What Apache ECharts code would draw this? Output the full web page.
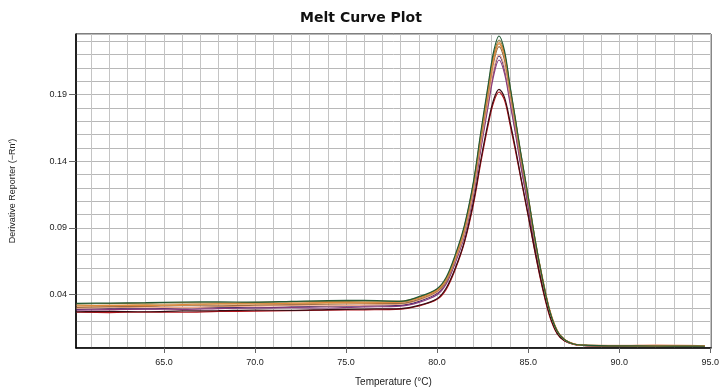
<!DOCTYPE html>
<html>
<head>
<meta charset="utf-8">
<script src="https://cdn.jsdelivr.net/npm/echarts@6/dist/echarts.min.js"></script>
<style>html,body{margin:0;padding:0;background:#fff;}#c{width:722px;height:392px;}</style>
</head>
<body>
<div id="c"></div>
<script>
// Temperatures (°C) shared by all wells
var temps = [60.2, 62, 64, 66, 68, 70, 72, 74, 76, 78, 79, 80, 80.5, 81, 81.5, 82, 82.4, 82.8, 83.1, 83.4, 83.7, 84, 84.3, 84.6, 85, 85.4, 85.8, 86.2, 86.6, 87, 87.5, 88, 90, 92, 94, 94.7];

// Derivative reporter (-Rn') per well
var wellPurple  = [0.0290,0.0296,0.0293,0.0300,0.0305,0.0302,0.0308,0.0312,0.0316,0.0320,0.0350,0.0410, 0.049,0.065,0.085,0.117,0.151,0.184,0.207,0.219,0.209,0.186,0.163,0.138,0.107,0.075,0.048,0.025,0.0115,0.0058,0.0030,0.0020, 0.0016,0.0015,0.0014,0.0013];
var wellMagenta = [0.0284,0.0288,0.0292,0.0290,0.0296,0.0300,0.0303,0.0300,0.0308,0.0314,0.0342,0.0400, 0.048,0.064,0.084,0.115,0.149,0.181,0.204,0.216,0.206,0.184,0.161,0.136,0.106,0.074,0.047,0.025,0.0112,0.0056,0.0028,0.0020, 0.0016,0.0015,0.0014,0.0013];
var wellRed     = [0.0268,0.0266,0.0270,0.0268,0.0274,0.0276,0.0280,0.0284,0.0286,0.0292,0.0315,0.0365, 0.044,0.059,0.079,0.108,0.139,0.167,0.184,0.192,0.186,0.168,0.148,0.127,0.099,0.070,0.044,0.023,0.0105,0.0052,0.0027,0.0019, 0.0015,0.0014,0.0013,0.0012];
var wellBlack   = [0.0272,0.0275,0.0272,0.0278,0.0280,0.0284,0.0282,0.0288,0.0292,0.0296,0.0320,0.0370, 0.045,0.060,0.080,0.110,0.141,0.169,0.186,0.194,0.188,0.170,0.150,0.128,0.100,0.071,0.045,0.024,0.0110,0.0054,0.0028,0.0020, 0.0016,0.0015,0.0015,0.0014];
var wellSalmon  = [0.0298,0.0302,0.0306,0.0303,0.0310,0.0314,0.0318,0.0316,0.0322,0.0328,0.0358,0.0418, 0.050,0.066,0.086,0.118,0.153,0.186,0.209,0.220,0.211,0.189,0.166,0.141,0.111,0.078,0.050,0.027,0.0125,0.0062,0.0031,0.0022, 0.0019,0.0024,0.0020,0.0015];
var wellBrown   = [0.0305,0.0310,0.0312,0.0318,0.0316,0.0322,0.0325,0.0328,0.0332,0.0335,0.0365,0.0425, 0.050,0.067,0.088,0.121,0.156,0.190,0.214,0.226,0.216,0.192,0.168,0.142,0.111,0.078,0.050,0.027,0.0125,0.0062,0.0030,0.0020, 0.0017,0.0016,0.0015,0.0014];
var wellTan     = [0.0322,0.0318,0.0325,0.0322,0.0330,0.0335,0.0332,0.0338,0.0343,0.0342,0.0372,0.0432, 0.051,0.068,0.089,0.122,0.158,0.192,0.216,0.228,0.219,0.194,0.170,0.144,0.113,0.079,0.051,0.027,0.0125,0.0062,0.0030,0.0020, 0.0017,0.0016,0.0015,0.0014];
var wellOlive   = [0.0330,0.0333,0.0336,0.0340,0.0338,0.0342,0.0346,0.0349,0.0352,0.0352,0.0380,0.0440, 0.052,0.069,0.091,0.124,0.160,0.195,0.219,0.231,0.221,0.196,0.171,0.145,0.113,0.079,0.051,0.027,0.0125,0.0062,0.0030,0.0021, 0.0017,0.0016,0.0015,0.0014];
var wellOrange  = [0.0315,0.0320,0.0318,0.0326,0.0332,0.0330,0.0336,0.0340,0.0338,0.0345,0.0375,0.0435, 0.052,0.068,0.090,0.123,0.159,0.193,0.217,0.229,0.220,0.195,0.171,0.145,0.114,0.080,0.052,0.028,0.0132,0.0064,0.0031,0.0021, 0.0018,0.0017,0.0016,0.0014];
var wellGreen   = [0.0335,0.0337,0.0340,0.0345,0.0346,0.0344,0.0350,0.0356,0.0357,0.0350,0.0385,0.0445, 0.053,0.070,0.092,0.125,0.162,0.197,0.222,0.234,0.223,0.197,0.172,0.146,0.114,0.080,0.051,0.027,0.0125,0.0062,0.0030,0.0022, 0.0016,0.0015,0.0014,0.0013];

var xTickLabels = [65, 70, 75, 80, 85, 90, 95];
var yTickLabels = [0.04, 0.09, 0.14, 0.19];
var xGridValues = [61,62,63,64,65,66,67,68,69,70,71,72,73,74,75,76,77,78,79,80,81,82,83,84,85,86,87,88,89,90,91,92,93,94,95];

var wells = [
  {name:'W1', data: wellPurple,  color:'#3a2c6e'},
  {name:'W2', data: wellMagenta, color:'#8a3a7a'},
  {name:'W3', data: wellRed,     color:'#b3161c'},
  {name:'W4', data: wellBlack,   color:'#3a0d14'},
  {name:'W5', data: wellSalmon,  color:'#f2a98e'},
  {name:'W6', data: wellBrown,   color:'#9c6a3c'},
  {name:'W7', data: wellTan,     color:'#c99c62'},
  {name:'W8', data: wellOlive,   color:'#8c7d3e'},
  {name:'W9', data: wellOrange,  color:'#e0883a'},
  {name:'W10', data: wellGreen,  color:'#245a34'}
];

var XMIN = 60.17, XMAX = 95.04, YMIN = 0, YMAX = 0.2355;
var font = 'Liberation Sans, Arial, sans-serif';

var chart = echarts.init(document.getElementById('c'), null, {renderer:'canvas'});
chart.setOption({
  animation: false,
  backgroundColor: '#fff',
  title: {
    text: 'Melt Curve Plot', left: 'center', top: 6,
    textStyle: {fontFamily: 'DejaVu Sans', fontWeight: 'bold', fontSize: 14, color: '#111'}
  },
  grid: {left: 73, right: 10, top: 34, bottom: 43, show: true, borderColor: '#000', borderWidth: 1, containLabel: false},
  xAxis: [
    {
      type: 'value', min: XMIN, max: XMAX,
      name: 'Temperature (°C)', nameLocation: 'middle', nameGap: 29,
      nameTextStyle: {fontFamily: font, fontSize: 10, color: '#222'},
      axisLine: {show: true, lineStyle: {color: '#000', width: 1.5}},
      axisTick: {show: false, customValues: xGridValues},
      axisLabel: {show: false},
      splitLine: {show: true, lineStyle: {color: '#c4c4c4', width: 1}}
    },
    {
      type: 'value', min: XMIN, max: XMAX, position: 'bottom',
      axisLine: {show: false},
      axisTick: {show: true, length: 5, customValues: xTickLabels, lineStyle: {color: '#666'}},
      axisLabel: {show: true, customValues: xTickLabels, margin: 10, fontFamily: font, fontSize: 9, color: '#222',
        formatter: function (v) { return v.toFixed(1); }},
      splitLine: {show: false}
    }
  ],
  yAxis: [
    {
      type: 'value', min: YMIN, max: YMAX, interval: 0.01,
      name: 'Derivative Reporter (−Rn′)', nameLocation: 'middle', nameGap: 59,
      nameTextStyle: {fontFamily: font, fontSize: 9, color: '#222'},
      axisLine: {show: true, lineStyle: {color: '#000', width: 1.5}},
      axisTick: {show: false},
      axisLabel: {show: false},
      splitLine: {show: true, lineStyle: {color: '#b8b8b8', width: 1}}
    },
    {
      type: 'value', min: YMIN, max: YMAX, position: 'left',
      axisLine: {show: false},
      axisTick: {show: true, length: 7, customValues: yTickLabels, lineStyle: {color: '#666'}},
      axisLabel: {show: true, customValues: yTickLabels, margin: 9, fontFamily: font, fontSize: 9, color: '#222',
        formatter: function (v) { return v.toFixed(2); }},
      splitLine: {show: false}
    }
  ],
  series: wells.map(function (w) {
    return {
      name: w.name, type: 'line', xAxisIndex: 0, yAxisIndex: 0,
      data: temps.map(function (t, i) { return [t, w.data[i]]; }),
      smooth: 0.35, showSymbol: false, symbol: 'none',
      lineStyle: {color: w.color, width: 1.2},
      itemStyle: {color: w.color}
    };
  })
});
</script>
</body>
</html>
